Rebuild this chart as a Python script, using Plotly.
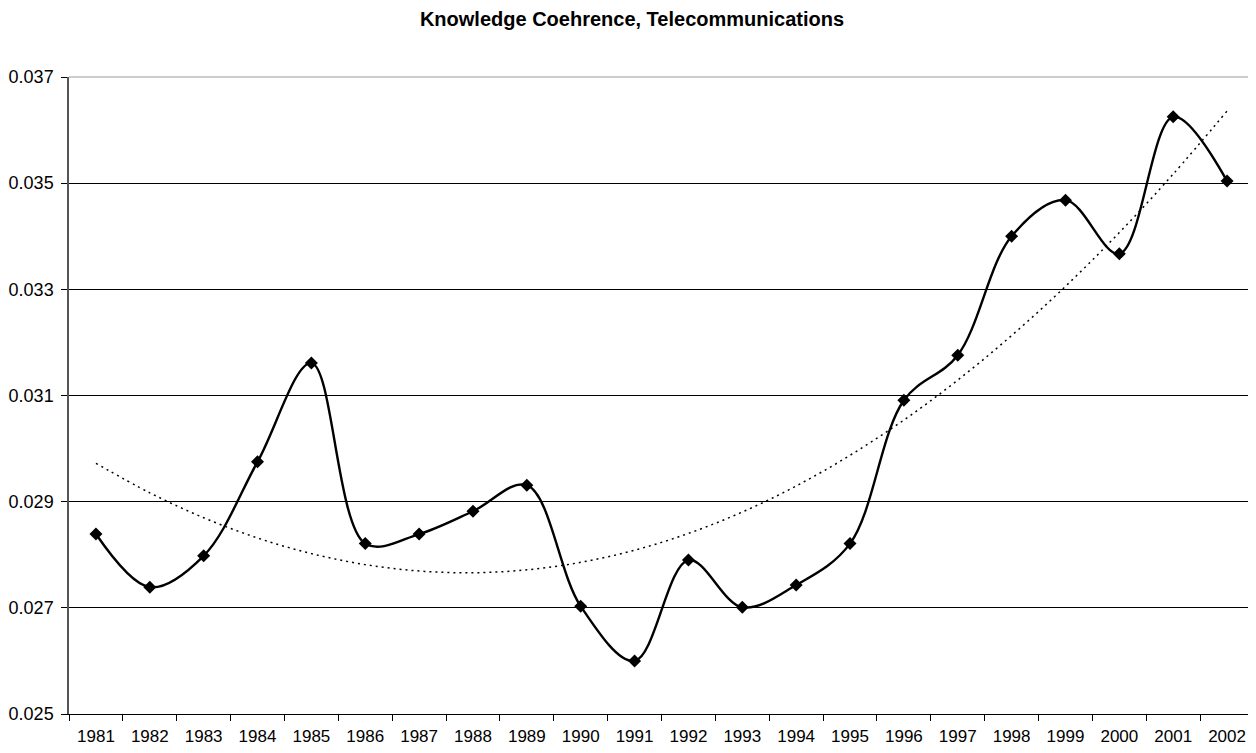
import numpy as np
import plotly.graph_objects as go

years = [str(y) for y in range(1981, 2003)]
coherence = [0.02839, 0.02739, 0.02798, 0.02975, 0.03161, 0.02821, 0.02839, 0.02882,
             0.02931, 0.02703, 0.02600, 0.02790, 0.02701, 0.02743, 0.02821, 0.03091,
             0.03176, 0.03400, 0.03468, 0.03367, 0.03625, 0.03504]
y_ticks = [0.025, 0.027, 0.029, 0.031, 0.033, 0.035, 0.037]

# Polynomial (order 2) trendline, as in the original spreadsheet chart
idx = np.arange(1, len(coherence) + 1)
coef = np.polyfit(idx, coherence, 2)
trend = np.polyval(coef, idx)

W, H = 1248, 745  # page body has an 8px margin

fig = go.Figure()
fig.add_trace(go.Scatter(
    x=years, y=trend, mode="lines",
    line=dict(color="#000000", width=1.5, dash="2px,4px", shape="spline"),
    showlegend=False, hoverinfo="skip"))
fig.add_trace(go.Scatter(
    x=years, y=coherence, mode="lines+markers",
    line=dict(color="#000000", width=2.4, shape="spline", smoothing=1.0),
    marker=dict(symbol="diamond", size=10, color="#000000"),
    showlegend=False))

fig.update_layout(
    width=W, height=H,
    paper_bgcolor="white", plot_bgcolor="white",
    margin=dict(l=61, r=2, t=69, b=39),
    title=dict(text="<b>Knowledge Coehrence, Telecommunications</b>",
               x=0.5, xanchor="center", y=1 - 11 / H, yanchor="middle",
               font=dict(family="Liberation Sans, Arial", size=20, color="#000000")),
    font=dict(family="Liberation Sans, Arial", size=18, color="#000000"),
    xaxis=dict(type="category", range=[-0.5, 21.5], tickson="boundaries",
               ticks="outside", ticklen=6, automargin=False, ticklabelstandoff=7,
               tickcolor="#000000", showgrid=False, showline=True, linecolor="#000000",
               linewidth=1, tickfont=dict(size=17), zeroline=False),
    yaxis=dict(range=[0.025, 0.037], tickvals=y_ticks, tickformat=".3f",
               ticks="outside", ticklen=6, tickcolor="#000000", automargin=False,
               ticklabelstandoff=4,
               showgrid=True, gridcolor="#000000", gridwidth=1,
               showline=True, linecolor="#555555", linewidth=1.5,
               tickfont=dict(size=18), zeroline=False),
    shapes=[
        dict(type="line", xref="paper", yref="paper", x0=0, x1=1, y0=1, y1=1,
             line=dict(color="#999999", width=1)),
        dict(type="line", xref="paper", yref="paper", x0=1, x1=1, y0=0, y1=1,
             line=dict(color="#999999", width=1)),
    ],
)

fig.write_html("out.html")
